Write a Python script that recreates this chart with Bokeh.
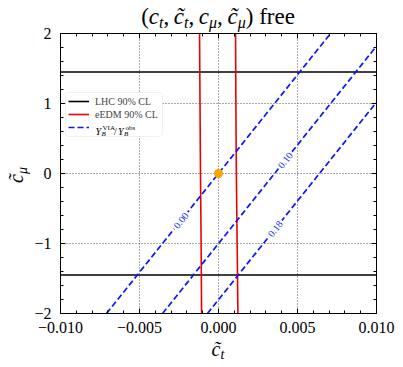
import math
import numpy as np
from bokeh.plotting import figure
from bokeh.layouts import column, row
from bokeh.models import (Range1d, LinearAxis, FixedTicker, Label, Legend, LegendItem,
                          CustomJSTickFormatter, Div, BoxAnnotation)
from bokeh.core.properties import value
from bokeh.embed import file_html
from bokeh.resources import INLINE

# ---------------- data ----------------
ct_range = [-0.010, 0.010]
cmu_range = [-2.0, 2.0]
xticks = [-0.010, -0.005, 0.0, 0.005, 0.010]
xtick_labels = ["\u22120.010", "\u22120.005", "0.000", "0.005", "0.010"]
yticks = [-2, -1, 0, 1, 2]
ytick_labels = ["\u22122", "\u22121", "0", "1", "2"]

lhc_cmu_bounds = [1.45, -1.45]

eedm_cmu = [-2.0, -1.0, 0.0, 1.0, 2.0]
eedm_ct_left = [-0.00107, -0.00110, -0.00114, -0.00117, -0.00120]
eedm_ct_right = [0.00123, 0.00118, 0.00113, 0.00110, 0.00108]

yb_levels = ["0.00", "0.10", "0.18"]
yb_cmu_ends = [-2.0, 2.0]
yb_ct_ends = [[-0.00709, 0.00709], [-0.00354, 0.01064], [-0.00070, 0.01348]]
yb_label_cmu = [-0.67, 0.19, -0.79]

bp_ct = [0.0]
bp_cmu = [0.0]

# ---------------- layout constants ----------------
YLAB_W, TITLE_H, XLAB_H = 30, 20, 24
W, H = 370, 321
BL, BR, BT, BB = 30, 24, 13, 28
FW, FH = W - BL - BR, H - BT - BB
PAGE_L, PAGE_B = YLAB_W + BL, TITLE_H + BT + FH   # frame left / bottom in page px
SERIF = "Liberation Serif"

p = figure(width=W, height=H, x_range=Range1d(*ct_range), y_range=Range1d(*cmu_range),
           output_backend="svg", toolbar_location=None,
           min_border_left=BL, min_border_right=BR, min_border_top=BT, min_border_bottom=BB)
p.background_fill_color = "white"
p.border_fill_color = "white"
p.border_fill_alpha = 0.0
p.outline_line_color = "black"
p.outline_line_width = 1

xminor = [round(v, 6) for v in np.linspace(ct_range[0], ct_range[1], 21)]
yminor = [round(v, 6) for v in np.linspace(cmu_range[0], cmu_range[1], 21)]
xticker = FixedTicker(ticks=xticks, minor_ticks=xminor)
yticker = FixedTicker(ticks=yticks, minor_ticks=yminor)


def style_axis(ax):
    ax.axis_line_color = "black"
    ax.axis_line_width = 1
    ax.major_tick_in = 5
    ax.major_tick_out = 0
    ax.minor_tick_in = 3
    ax.minor_tick_out = 0
    ax.major_tick_line_color = "black"
    ax.minor_tick_line_color = "black"
    ax.major_label_text_font = SERIF
    ax.major_label_text_font_size = "16px"
    ax.major_label_text_color = "black"


p.xaxis.ticker = xticker
p.yaxis.ticker = yticker
p.xaxis.major_label_overrides = dict(zip(xticks, xtick_labels))
p.yaxis.major_label_overrides = dict(zip(yticks, ytick_labels))
style_axis(p.xaxis[0])
style_axis(p.yaxis[0])
p.xaxis.major_label_standoff = 8
p.yaxis.major_label_standoff = 9

empty = CustomJSTickFormatter(code="return ''")
top = LinearAxis(ticker=xticker, formatter=empty)
right = LinearAxis(ticker=yticker, formatter=empty)
style_axis(top)
style_axis(right)
for ax in (top, right):
    ax.major_label_standoff = 0
    ax.major_label_text_font_size = "0px"
p.add_layout(top, "above")
p.add_layout(right, "right")

for g in (p.xgrid[0], p.ygrid[0]):
    g.grid_line_color = "#555555"
    g.grid_line_dash = "1 2"
    g.grid_line_width = 1

# ---------------- glyphs ----------------
r_lhc = p.multi_line(xs=[ct_range, ct_range], ys=[[c, c] for c in lhc_cmu_bounds],
                     line_color="black", line_width=1.6)
r_eedm = p.multi_line(xs=[eedm_ct_left, eedm_ct_right], ys=[eedm_cmu, eedm_cmu],
                      line_color="#ee0000", line_width=1.6)
r_yb = p.multi_line(xs=yb_ct_ends, ys=[yb_cmu_ends] * len(yb_ct_ends),
                    line_color="#0a14ff", line_width=1.7, line_dash="6 3")

# contour labels (inline)
lab_ct = [float(np.interp(c, yb_cmu_ends, e)) for c, e in zip(yb_label_cmu, yb_ct_ends)]
e0 = yb_ct_ends[0]
ang = math.atan2((yb_cmu_ends[1] - yb_cmu_ends[0]) * FH / (cmu_range[1] - cmu_range[0]),
                 (e0[1] - e0[0]) * FW / (ct_range[1] - ct_range[0]))
p.text(x=lab_ct, y=yb_label_cmu, text=yb_levels, angle=ang,
       text_align="center", text_baseline="middle", text_font=value(SERIF),
       text_font_size="10px", text_color="#2233ff",
       background_fill_color="white", padding=2)

p.scatter(x=bp_ct, y=bp_cmu, size=9, color="#ffa500", line_color=None)

# ---------------- legend ----------------
LEG_X, LEG_Y, LEG_W, LEG_H = 5, 177, 97, 44
p.add_layout(BoxAnnotation(left=LEG_X, right=LEG_X + LEG_W, bottom=LEG_Y, top=LEG_Y + LEG_H,
                           left_units="screen", right_units="screen",
                           bottom_units="screen", top_units="screen",
                           fill_color="white", fill_alpha=1.0,
                           line_color="#cccccc", line_width=1, border_radius=3))
legend = Legend(items=[LegendItem(label=value("LHC 90% CL"), renderers=[r_lhc]),
                       LegendItem(label=value("eEDM 90% CL"), renderers=[r_eedm]),
                       LegendItem(label=value(" "), renderers=[r_yb])],
                location=(LEG_X, LEG_Y), margin=0, padding=3, spacing=1,
                glyph_width=21, glyph_height=12, label_height=12, label_standoff=6,
                label_text_font=SERIF, label_text_font_size="10px",
                border_line_alpha=0.0, background_fill_alpha=0.0)
p.add_layout(legend)


def put(text, px, py, size, style="normal"):
    p.add_layout(Label(x=px - PAGE_L, y=PAGE_B - py, x_units="screen", y_units="screen",
                       text=text, text_font=SERIF, text_font_size=f"{size}px",
                       text_font_style=style, text_color="black",
                       text_align="left", text_baseline="alphabetic"))


# legend third entry: Y_B^VIA / Y_B^obs
put("Y", 95, 131, 10, "italic")
put("B", 101, 133.5, 7, "italic")
put("VIA", 102, 127, 7)
put("/", 113.5, 131, 10)
put("Y", 117.5, 131, 10, "italic")
put("B", 123.5, 133.5, 7, "italic")
put("obs", 125, 127, 7)

# ---------------- title / axis labels (HTML text) ----------------
FONT_CSS = "font-family:'Liberation Serif',serif;color:black;white-space:nowrap;"
frame_cx = BL + FW / 2 + YLAB_W


def sub(t, size, shift):
    return (f'<span style="font-size:{size}px;position:relative;top:{shift}px;'
            f'font-style:italic;">{t}</span>')


def it(t):
    return f'<span style="font-style:italic;">{t}</span>'


title_html = (
    f'<div style="position:relative;width:{YLAB_W + W}px;height:{TITLE_H}px;overflow:visible;">'
    f'<div style="position:absolute;left:{frame_cx}px;top:4px;transform:translateX(-50%);'
    f'{FONT_CSS}font-size:23px;line-height:26px;">'
    f'({it("c")}{sub("t", 16, 4)},&thinsp;{it("c&#x303;")}{sub("t", 16, 4)},&thinsp;'
    f'{it("c")}{sub("&#x3bc;", 16, 4)},&thinsp;{it("c&#x303;")}{sub("&#x3bc;", 16, 4)}) free'
    f'</div></div>')

ylab_html = (
    f'<div style="position:relative;width:{YLAB_W}px;height:{H}px;">'
    f'<div style="position:absolute;left:17px;top:{175 - TITLE_H}px;'
    f'transform:translate(-50%,-50%) rotate(-90deg);{FONT_CSS}font-size:20px;line-height:20px;">'
    f'{it("c&#x303;")}{sub("&#x3bc;", 14, 4)}</div></div>')

xlab_html = (
    f'<div style="position:relative;width:{YLAB_W + W}px;height:{XLAB_H}px;">'
    f'<div style="position:absolute;left:{frame_cx}px;top:0px;transform:translateX(-50%);'
    f'{FONT_CSS}font-size:20px;line-height:16px;">'
    f'{it("c&#x303;")}{sub("t", 14, 3)}</div></div>')

title_div = Div(text=title_html, width=YLAB_W + W, height=TITLE_H, margin=(0, 0, 0, 0),
                styles={"overflow": "visible", "z-index": "5"})
ylab_div = Div(text=ylab_html, width=YLAB_W, height=H, margin=(0, 0, 0, 0))
xlab_div = Div(text=xlab_html, width=YLAB_W + W, height=XLAB_H, margin=(0, 0, 0, 0))

layout = column(title_div, row(ylab_div, p, spacing=0), xlab_div, spacing=0)

open("out.html", "w").write(file_html(layout, INLINE))
